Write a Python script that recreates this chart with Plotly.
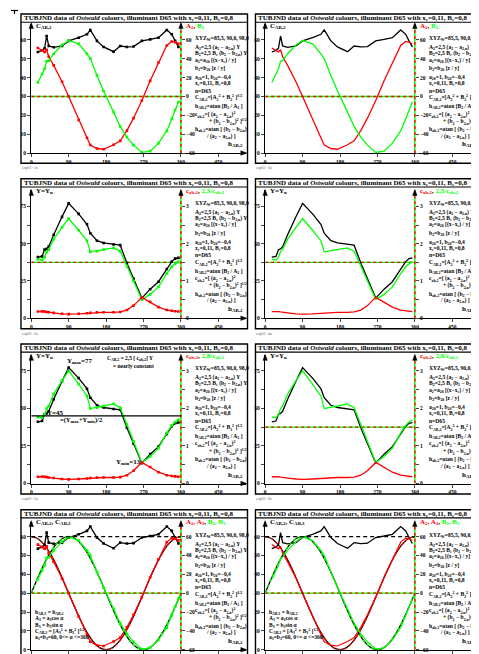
import plotly.graph_objects as go

W, H = 479, 654

# ---------------- data ----------------
HUE = [16, 26, 32, 37, 42, 54, 74, 90, 114, 134, 142, 158, 174, 198, 214, 230,
       246, 266, 286, 306, 326, 338, 346, 354]
C_AB2 = [53.6, 54.5, 55.6, 62.1, 56.8, 56.1, 56.8, 59.5, 61.2, 63.0, 65.3, 59.5,
         56.3, 53.8, 56.8, 56.3, 56.5, 59.5, 60.3, 61.2, 65.3, 63.0, 59.5, 56.3]
A2 = [51.5, 49.0, 47.2, 49.6, 42.2, 33.0, 15.7, 0.0, -24.9, -43.8, -51.5, -55.2,
      -56.0, -51.2, -47.1, -36.2, -23.0, -4.2, 16.6, 36.0, 54.1, 58.4, 57.7, 56.0]
B2 = [14.8, 23.9, 29.5, 37.4, 38.0, 45.4, 54.6, 59.5, 55.9, 45.3, 40.2, 22.3,
      5.9, -16.6, -31.8, -43.1, -51.6, -59.4, -58.0, -49.5, -36.5, -23.6, -14.4, -5.9]
Y_REL = [41, 41.5, 46, 46.5, 48, 56, 68, 77, 70, 63, 57, 52, 50.5, 49.5, 49, 37,
         26.5, 13.5, 19.5, 24.5, 33, 38, 40, 40.5]
C_AB_REL = [0.18, 0.185, 0.18, 0.17, 0.16, 0.145, 0.12, 0.11, 0.12, 0.135, 0.145,
            0.16, 0.16, 0.16, 0.17, 0.22, 0.34, 0.56, 0.44, 0.30, 0.22, 0.20, 0.19, 0.18]
G25 = [39.6, 39, 41, 44.5, 46, 53, 61, 66.8, 59, 52, 44.5, 45, 46, 47.2, 45, 35,
       25, 12.5, 16, 21, 30, 34.5, 36.5, 37.8]
G28 = [44.3, 43.7, 45.9, 49.8, 51.5, 59.4, 68.3, 74.8, 66.1, 58.2, 49.8, 50.4,
       51.5, 52.9, 50.4, 39.2, 28, 14, 17.9, 23.5, 33.6, 38.6, 40.9, 42.3]
ALPHA = [0, 15, 30, 45, 60, 75, 90, 105, 120, 135, 150, 165, 180, 195, 210, 225,
         240, 255, 270, 285, 300, 315, 330, 345, 360]
A3 = [60, 58, 52, 42.4, 30, 15.5, 0, -15.5, -30, -42.4, -52, -58, -60, -58, -52,
      -42.4, -30, -15.5, 0, 15.5, 30, 42.4, 52, 58, 60]
B3 = [0, 15.5, 30, 42.4, 52, 58, 60, 58, 52, 42.4, 30, 15.5, 0, -15.5, -30, -42.4,
      -52, -58, -60, -58, -52, -42.4, -30, -15.5, 0]
C_AB3 = 60
X_TICKS = [0, 90, 180, 270, 360, 450]
LABELS = ["eop61\u22121a", "eop61\u22122a", "eop61\u22123a", "eop61\u22124a",
          "eop61\u22125a", "eop61\u22126a", "eop61\u22127a", "eop61\u22128a"]

RED = "#ff0000"
GREEN = "#00ff00"
FONT = "Liberation Serif"

# ---------------- geometry (pixels) ----------------
COLX0 = [22.3, 256.7]
FRAME_L = [12, 247]
FRAME_R = [239, 477.3]
ROW_TOP = [6, 171.5, 337.5, 504]
ROW_BOT = [156, 322.3, 488.3, 720]
AXIS_Y = [145.7, 311.7, 477.7, 644.7]
TIP_Y = [15.7, 183.3, 349.0, 516.0]
SCALE = [1.8933, 1.4987, 1.512, 1.895]
DEG = 150 / 360
XLEN = 215


def PX(x):
    return x / W


def PY(y):
    return 1 - y / H


fig = go.Figure()
layout = dict(width=W, height=H, margin=dict(l=0, r=0, t=0, b=0),
              paper_bgcolor="white", plot_bgcolor="white", showlegend=False)
shapes = []
anns = []

tickfont = dict(family=FONT, size=5.5, color="black", weight="bold")


def ann(x, y, text, size=6, xanchor="left", yanchor="middle", color="black"):
    anns.append(dict(x=PX(x), y=PY(y), xref="paper", yref="paper", text=text,
                     showarrow=False, xanchor=xanchor, yanchor=yanchor,
                     font=dict(family=FONT, size=size, color=color),
                     borderpad=0, align="left"))


def line_paper(x0, y0, x1, y1, w=1.3, color="black"):
    shapes.append(dict(type="line", xref="paper", yref="paper", x0=PX(x0), y0=PY(y0),
                       x1=PX(x1), y1=PY(y1), line=dict(color=color, width=w)))


def tri(points):
    path = "M " + " L ".join(f"{PX(a):.5f},{PY(b):.5f}" for a, b in points) + " Z"
    shapes.append(dict(type="path", xref="paper", yref="paper", path=path,
                       fillcolor="black", line=dict(color="black", width=0.5)))


RG_TITLE = "<b>TUBJND data of <i>Ostwald</i> colours, illuminant D65 with x<sub>c</sub>=0,11, B<sub>c</sub>=0,8</b>"

TEXT_BLOCK = [
    (0, 25.0, "XYZ<sub>W</sub>=85,5, 90,0, 98,0"),
    (0, 33.5, "A<sub>2</sub>=2,5 (a<sub>2</sub> \u2212 a<sub>2,n</sub>) Y"),
    (0, 39.8, "B<sub>2</sub>=2,5 B<sub>c</sub> (b<sub>2</sub> \u2212 b<sub>2,n</sub>) Y"),
    (0, 46.5, "a<sub>2</sub>=a<sub>20</sub> [(x\u2212x<sub>c</sub>) / y]"),
    (0, 55.0, "b<sub>2</sub>=b<sub>20</sub> [z / y]"),
    (0, 64.0, "a<sub>20</sub>=1, b<sub>20</sub>=\u22120,4"),
    (0, 70.0, "x<sub>c</sub>=0,11, B<sub>c</sub>=0,8"),
    (0, 77.0, "n=D65"),
    (0, 84.5, "C<sub>AB,2</sub>=[A<sub>2</sub><sup>2</sup> + B<sub>2</sub><sup>2</sup> ]<sup>1/2</sup>"),
    (0, 93.2, "h<sub>AB,2</sub>=atan [B<sub>2</sub> / A<sub>2</sub> ]"),
    (0, 101.0, "c<sub>ab,2</sub>=[ (a<sub>2</sub> \u2212 a<sub>2,n</sub>)<sup>2</sup>"),
    (14, 108.2, "+ (b<sub>2</sub> \u2212 b<sub>2,n</sub>)<sup>2</sup> ]<sup>1/2</sup>"),
    (0, 116.2, "h<sub>ab,2</sub>=atan [ (b<sub>2</sub> \u2212 b<sub>2,n</sub>)"),
    (11, 122.7, "/ (a<sub>2</sub> \u2212 a<sub>2,n</sub>) ]"),
]

LEFT_LABEL = ["C<sub>AB,2</sub>", "Y=Y<sub>n</sub>", "Y=Y<sub>n</sub>",
              "C<sub>AB,2</sub>, C<sub>AB,3</sub>"]
RIGHT_LABEL = [
    f'<span style="color:{RED}">A<sub>2</sub></span>, <span style="color:{GREEN}">B<sub>2</sub></span>',
    f'<span style="color:{RED}">c<sub>ab,2</sub></span>, <span style="color:{GREEN}">2,5/c<sub>ab,2</sub></span>',
    f'<span style="color:{RED}">c<sub>ab,2</sub></span>, <span style="color:{GREEN}">2,8/c<sub>ab,2</sub></span>',
    f'<span style="color:{RED}">A<sub>2</sub>, A<sub>3</sub></span>, <span style="color:{GREEN}">B<sub>2</sub>, B<sub>3</sub></span>',
]

for r in range(4):
    for c in range(2):
        idx = r * 2 + c
        k = idx + 1
        xn = "" if k == 1 else str(k)
        ly = 2 * idx + 1
        ry = 2 * idx + 2
        lyn = "" if ly == 1 else str(ly)
        ryn = str(ry)
        x0 = COLX0[c]
        ax_y = AXIS_Y[r]
        tip = TIP_Y[r]
        ltop = (ax_y - tip) / SCALE[r]
        xmax = XLEN / DEG

        layout["xaxis" + xn] = dict(
            domain=[PX(x0), PX(x0 + XLEN)], range=[0, xmax], anchor="y" + lyn,
            tickvals=X_TICKS, ticks="outside", ticklen=3, tickwidth=1,
            showline=True, linecolor="black", linewidth=1.4, showgrid=False,
            zeroline=False, tickfont=tickfont, fixedrange=True)
        if r in (0, 3):
            lt = [0, 10, 20, 30, 40, 50, 60]
            ltt = [str(v) for v in lt]
            rrange = [-60, 2 * ltop - 60]
            rt = [-60, -40, -20, 0, 20, 40, 60]
            rtt = [str(v).replace("-", "\u2212") for v in rt]
        else:
            lt = [0, 12.5, 25, 37.5, 50, 62.5, 75]
            ltt = ["0", " ", "25", " ", "50", " ", "75"]
            rrange = [0, ltop / 25]
            rt = [0, 0.5, 1, 1.5, 2, 2.5, 3]
            rtt = ["0", " ", "1", " ", "2", " ", "3"]
        layout["yaxis" + lyn] = dict(
            domain=[PY(ax_y), PY(tip)], range=[0, ltop], anchor="x" + xn,
            tickvals=lt, ticktext=ltt, ticks="outside", ticklen=3, tickwidth=1,
            showline=True, linecolor="black", linewidth=1.4, showgrid=False,
            zeroline=False, tickfont=tickfont, fixedrange=True)
        layout["yaxis" + ryn] = dict(
            overlaying="y" + lyn, anchor="free", position=PX(x0 + 360 * DEG),
            side="right", range=rrange, tickvals=rt, ticktext=rtt,
            ticks="outside", ticklen=3, tickwidth=1, showline=False,
            showgrid=False, zeroline=False, tickfont=tickfont, fixedrange=True)

        xa = "x" + xn
        yl = "y" + lyn
        yr = "y" + ryn
        mode = "lines+markers" if c == 0 else "lines"
        mk = dict(symbol="square", size=2.6)

        def rg_h(yval, yref=yl):
            shapes.append(dict(type="line", xref=xa, yref=yref, x0=0, x1=360,
                               y0=yval, y1=yval, layer="below",
                               line=dict(color=GREEN, width=1.3)))
            shapes.append(dict(type="line", xref=xa, yref=yref, x0=0, x1=360,
                               y0=yval, y1=yval, layer="below",
                               line=dict(color=RED, width=1.3, dash="3px,3px")))

        # vertical red/green axis at 360
        shapes.append(dict(type="line", xref=xa, yref=yl, x0=360, x1=360, y0=0,
                           y1=ltop, line=dict(color=GREEN, width=1.4)))
        shapes.append(dict(type="line", xref=xa, yref=yl, x0=360, x1=360, y0=0,
                           y1=ltop, line=dict(color=RED, width=1.4, dash="3px,3px")))

        if r == 0:
            rg_h(30)
            fig.add_trace(go.Scatter(x=HUE, y=A2, xaxis=xa, yaxis=yr, mode=mode,
                                     line=dict(color=RED, width=1.3), marker=mk))
            fig.add_trace(go.Scatter(x=HUE, y=B2, xaxis=xa, yaxis=yr, mode=mode,
                                     line=dict(color=GREEN, width=1.3), marker=mk))
            fig.add_trace(go.Scatter(x=HUE, y=C_AB2, xaxis=xa, yaxis=yl, mode=mode,
                                     line=dict(color="black", width=1.3), marker=mk))
        elif r in (1, 2):
            g = G25 if r == 1 else G28
            if r == 2 and c == 0:
                shapes.append(dict(type="line", xref=xa, yref=yl, x0=0, x1=360,
                                   y0=45, y1=45, line=dict(color="black", width=1.2)))
            else:
                rg_h(37.5)
            fig.add_trace(go.Scatter(x=HUE, y=C_AB_REL, xaxis=xa, yaxis=yr, mode=mode,
                                     line=dict(color=RED, width=1.3), marker=mk))
            fig.add_trace(go.Scatter(x=HUE, y=Y_REL, xaxis=xa, yaxis=yl, mode=mode,
                                     line=dict(color="black", width=1.3), marker=mk))
            fig.add_trace(go.Scatter(x=HUE, y=g, xaxis=xa, yaxis=yl, mode=mode,
                                     line=dict(color=GREEN, width=1.3), marker=mk))
        else:
            rg_h(30)
            shapes.append(dict(type="line", xref=xa, yref=yl, x0=0, x1=360,
                               y0=C_AB3, y1=C_AB3,
                               line=dict(color="black", width=1.2, dash="4px,3px")))
            fig.add_trace(go.Scatter(x=ALPHA, y=A3, xaxis=xa, yaxis=yr, mode="lines",
                                     line=dict(color="black", width=1.3, shape="spline")))
            fig.add_trace(go.Scatter(x=ALPHA, y=A3, xaxis=xa, yaxis=yr, mode="lines",
                                     line=dict(color=RED, width=1.3, shape="spline", dash="3px,3px")))
            fig.add_trace(go.Scatter(x=ALPHA, y=B3, xaxis=xa, yaxis=yr, mode="lines",
                                     line=dict(color="black", width=1.3, shape="spline")))
            fig.add_trace(go.Scatter(x=ALPHA, y=B3, xaxis=xa, yaxis=yr, mode="lines",
                                     line=dict(color=GREEN, width=1.3, shape="spline", dash="3px,3px")))
            fig.add_trace(go.Scatter(x=HUE, y=A2, xaxis=xa, yaxis=yr, mode=mode,
                                     line=dict(color=RED, width=1.2), marker=mk))
            fig.add_trace(go.Scatter(x=HUE, y=B2, xaxis=xa, yaxis=yr, mode=mode,
                                     line=dict(color=GREEN, width=1.2), marker=mk))
            fig.add_trace(go.Scatter(x=HUE, y=C_AB2, xaxis=xa, yaxis=yl, mode=mode,
                                     line=dict(color="black", width=1.3), marker=mk))

        # frame and title box
        top = ROW_TOP[r]
        shapes.append(dict(type="rect", xref="paper", yref="paper",
                           x0=PX(FRAME_L[c]), x1=PX(FRAME_R[c]), y0=PY(ROW_BOT[r]),
                           y1=PY(top), line=dict(color="black", width=1.4)))
        line_paper(FRAME_L[c], top + 8.3, FRAME_R[c], top + 8.3, w=1.2)
        ann(FRAME_L[c] + 2, top + 4.4, RG_TITLE, size=7.0)

        # arrows
        xe = x0 + XLEN
        tri([(xe + 1, ax_y), (xe - 5, ax_y - 2.2), (xe - 5, ax_y + 2.2)])
        tri([(x0, tip - 1), (x0 - 2.2, tip + 5), (x0 + 2.2, tip + 5)])
        xr = x0 + 360 * DEG
        tri([(xr, tip - 1), (xr - 2.2, tip + 5), (xr + 2.2, tip + 5)])

        # axis labels
        ann(x0 + 4, top + 12.5, "<b>" + LEFT_LABEL[r] + "</b>", size=7)
        ann(xr + 4, top + 12.5, "<b>" + RIGHT_LABEL[r] + "</b>", size=7)
        ann(x0 + 196, ax_y - 9, "<b>h<sub>AB,2</sub></b>", size=7)

        # formula block
        tx = x0 + 163
        for dx, dy, t in TEXT_BLOCK:
            ann(tx + dx, top + dy + (1 if r == 3 else 0), "<b>" + t + "</b>", size=5.6)

        # panel label
        ann(FRAME_L[c], ROW_BOT[r] + 4.5, LABELS[idx], size=4, color="#666666")

        if r == 2 and c == 0:
            ann(57, 355, "<b>Y<sub>max</sub>=77</b>", size=7)
            ann(97, 352.5, "<b>C<sub>AB,2</sub> = 2,5 [ c<sub>ab,2</sub>] Y</b>", size=5.5)
            ann(103, 359.5, "<b>= nearly constant</b>", size=5.5)
            ann(37, 406.5, "<b>Y=45</b>", size=7)
            ann(50, 414, "<b>=(Y<sub>max</sub>+Y<sub>min</sub>)/2</b>", size=6.5)
            ann(106, 456, "<b>Y<sub>min</sub>=13</b>", size=7)
        if r == 3:
            bx = x0 + 3
            ann(bx, 607, "<b>h<sub>AB,3</sub> = h<sub>AB,2</sub></b>", size=5.5)
            ann(bx, 613.5, "<b>A<sub>3</sub> = a<sub>3</sub>cos \u03b1</b>", size=5.5)
            ann(bx, 620, "<b>B<sub>3</sub> = b<sub>3</sub>sin \u03b1</b>", size=5.5)
            ann(bx, 626.7, "<b>C<sub>AB,3</sub> = [A<sub>3</sub><sup>2</sup> + B<sub>3</sub><sup>2</sup> ]<sup>1/2</sup></b>", size=5.5)
            ann(bx, 632.7, "<b>a<sub>3</sub>=b<sub>3</sub>=60, 0&lt;= \u03b1 &lt;=360</b>", size=5.5)

# corner marks
line_paper(2, 2.5, 9, 2.5, w=1.2)
line_paper(5.5, 2.5, 5.5, 6, w=1.2)
line_paper(466, 0, 478, 11, w=1)

layout["shapes"] = shapes
layout["annotations"] = anns
fig.update_layout(**layout)
fig.write_html("out.html")
